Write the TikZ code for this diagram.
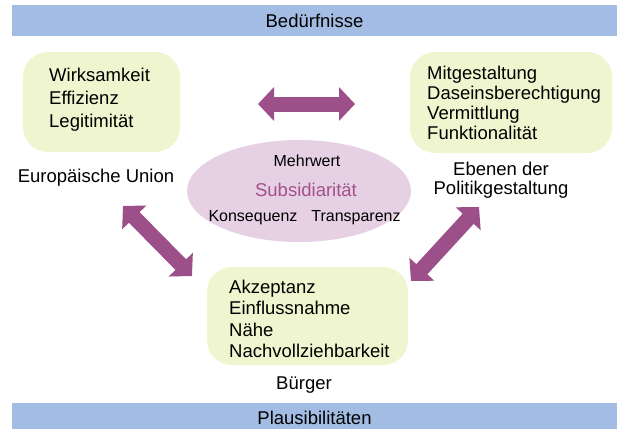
\documentclass[tikz,border=0pt]{standalone}
\usepackage{fontspec}
\setmainfont{Liberation Sans}
\usetikzlibrary{arrows.meta}
\definecolor{barblue}{HTML}{A2BCE3}
\definecolor{boxgreen}{HTML}{EFF6CF}
\definecolor{ellpink}{HTML}{E6D0E4}
\definecolor{arrpurple}{HTML}{9C4F89}
\definecolor{subpurple}{HTML}{A3508C}
\tikzset{
  bar/.style={fill=barblue, draw=none, minimum height=31bp, inner sep=0pt, font=\fontsize{18.5bp}{20bp}\selectfont},
  gbox/.style={fill=boxgreen, draw=none, rounded corners=25bp, inner sep=0pt},
  btext/.style={align=left, inner sep=0pt, anchor=north west},
  lbl/.style={align=center, inner sep=0pt, font=\fontsize{18.5bp}{19bp}\selectfont},
  etext/.style={inner sep=0pt, font=\fontsize{16bp}{18bp}\selectfont},
  bigarrow/.style={draw=arrpurple, line width=15bp, {Triangle[length=16bp,width=33bp]}-{Triangle[length=16bp,width=33bp]}, shorten <=0pt, shorten >=0pt},
}
\begin{document}
\begin{tikzpicture}[x=1bp,y=-1bp]
\useasboundingbox (0,0) rectangle (617,429);
% bars
\node[bar, minimum width=605bp, minimum height=31bp] (top) at (314.5,20.5) {Bedürfnisse};
\node[bar, minimum width=605bp, minimum height=26bp] (bot) at (314.5,416) {};
\node[inner sep=0pt, font=\fontsize{18.5bp}{20bp}\selectfont] (bottxt) at (314.5,418) {Plausibilitäten};
% ellipse
\fill[ellpink] (299,191) ellipse [x radius=112, y radius=51];
\coordinate (ell) at (299,191);
\node[etext] (mehr) at (307,161) {Mehrwert};
\node[inner sep=0pt, text=subpurple, font=\fontsize{18.5bp}{20bp}\selectfont] (subs) at (306,190) {Subsidiarität};
\node[etext] (kons) at (253,218) {Konsequenz};
\node[etext] (trans) at (356,218) {Transparenz};
% boxes
\node[gbox, minimum width=157bp, minimum height=100bp] (eu) at (101.5,102) {};
\node[btext, font=\fontsize{18.5bp}{23bp}\selectfont] (eut) at (49,68) {Wirksamkeit\\Effizienz\\Legitimität};
\node[gbox, minimum width=202bp, minimum height=101bp] (pol) at (511,102.5) {};
\node[btext, font=\fontsize{18.5bp}{20bp}\selectfont] (polt) at (427,66) {Mitgestaltung\\Daseinsberechtigung\\Vermittlung\\Funktionalität};
\node[gbox, minimum width=201bp, minimum height=98bp] (bur) at (307.5,316) {};
\node[btext, font=\fontsize{18.5bp}{21.5bp}\selectfont] (burt) at (229,279.5) {Akzeptanz\\Einflussnahme\\Nähe\\Nachvollziehbarkeit};
% labels
\node[lbl] (eul) at (96,178) {Europäische Union};
\node[lbl] (poll) at (501,180) {Ebenen der\\Politikgestaltung};
\node[lbl] (burl) at (304,385) {Bürger};
% arrows
\coordinate (h1) at (258,104);
\coordinate (h2) at (355,104);
\coordinate (l1) at (123,206);
\coordinate (l2) at (192,276);
\coordinate (r1) at (479,207);
\coordinate (r2) at (411,281);
\draw[bigarrow] (h1) -- (h2);
\draw[bigarrow] (l1) -- (l2);
\draw[bigarrow] (r1) -- (r2);
\end{tikzpicture}
\end{document}
